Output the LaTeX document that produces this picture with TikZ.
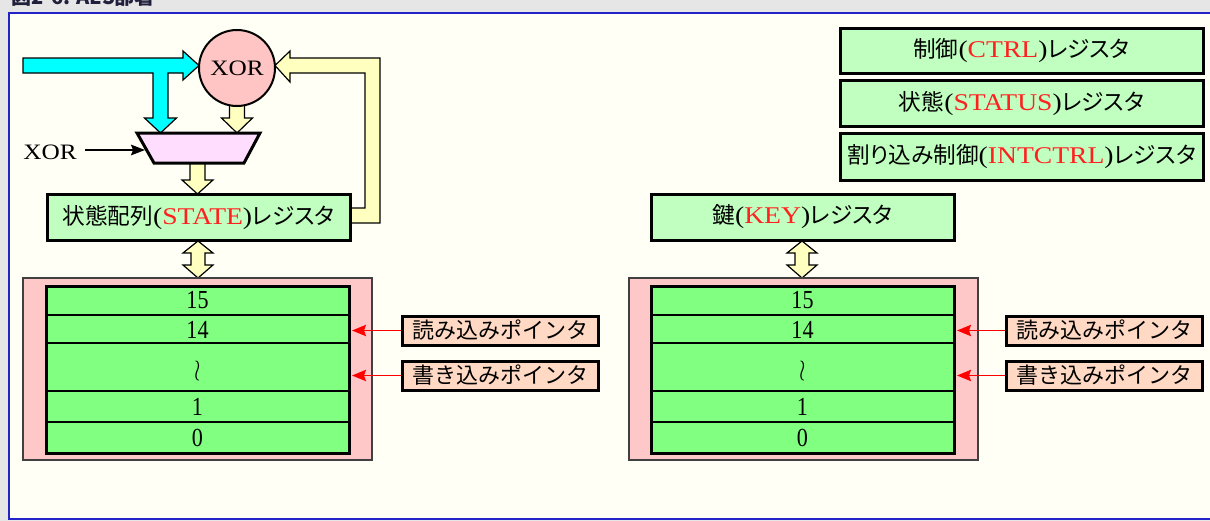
\documentclass[tikz,border=0pt]{standalone}
\usepackage{fontspec}
\setmainfont{Liberation Serif}[FakeStretch=1.15]
\newfontfamily\numfont{Liberation Serif}[FakeStretch=0.85]
\newfontfamily\jp{Noto Sans CJK JP}[RawFeature=+palt]
\newfontfamily\jpt{Noto Sans CJK JP}
\usetikzlibrary{arrows.meta}
\definecolor{bggray}{HTML}{E6E6E6}
\definecolor{panel}{HTML}{FFFFF6}
\definecolor{panelblue}{HTML}{2323C8}
\definecolor{cyanc}{HTML}{00FFFF}
\definecolor{yel}{HTML}{FFFFC0}
\definecolor{xorpink}{HTML}{FFC4C4}
\definecolor{muxpink}{HTML}{FFDDFF}
\definecolor{regfill}{HTML}{C0FFC0}
\definecolor{memgreen}{HTML}{80FF80}
\definecolor{mempink}{HTML}{FFC8C8}
\definecolor{ptrfill}{HTML}{FFD9C4}
\definecolor{ptrred}{HTML}{FF0000}
\definecolor{regred}{HTML}{FF2020}
\definecolor{titlecol}{HTML}{20203C}
\newcommand\J[1]{{\jp\fontsize{17pt}{19pt}\selectfont #1}}
\newcommand\JT[1]{{\jpt\fontsize{16.5pt}{18pt}\selectfont #1}}
\newcommand\R[1]{\textcolor{regred}{#1}}
\tikzset{
  fat/.style={draw=black, line width=0.9pt, line join=miter},
  reg/.style={draw=black, line width=2.25pt, fill=regfill, inner sep=0pt,
    font=\fontsize{18pt}{20pt}\selectfont},
  ptrbox/.style={draw=black, line width=2.25pt, fill=ptrfill, inner sep=0pt,
    minimum width=196*0.75pt, minimum height=29*0.75pt},
  meminner/.style={draw=black, line width=2.25pt, fill=memgreen, inner sep=0pt,
    minimum width=303*0.75pt, minimum height=167*0.75pt},
  memouter/.style={draw=black!75, line width=0.8pt, fill=mempink},
  rowline/.style={draw=black, line width=1.1pt},
  rowtxt/.style={inner sep=0pt, font=\numfont\fontsize{19.5pt}{21pt}\selectfont},
  ptr/.style={draw=ptrred, line width=1.3pt, -{Stealth[length=10.5pt, width=8.5pt, inset=1.5pt]}},
  blk/.style={draw=black, line width=1.2pt, -{Stealth[length=10.5pt, width=8pt, inset=1.5pt]}},
}
\begin{document}
\begin{tikzpicture}[x=0.75pt,y=-0.75pt]
\useasboundingbox (0,0) rectangle (1210,521);
\fill[bggray] (0,0) rectangle (1210,521);
\node[anchor=base west, inner sep=0pt, text=titlecol,
  font=\jpt\bfseries\fontsize{15pt}{16pt}\selectfont] (title) at (11,4) {図2-6: AES部署};
\filldraw[draw=panelblue, line width=1.5pt, fill=panel] (9,13) rectangle (1216,519);

% cyan input arrow
\filldraw[fat, fill=cyanc] (23,58) -- (183,58) -- (183,51) -- (199,65.5) -- (183,80) -- (183,73)
  -- (168,73) -- (168,118) -- (176.5,118) -- (160.5,133) -- (144.5,118) -- (153,118) -- (153,73)
  -- (23,73) -- cycle;
% yellow from XOR to mux
\filldraw[fat, fill=yel] (229.5,100) -- (244.5,100) -- (244.5,118) -- (252.5,118) -- (237,133)
  -- (221.5,118) -- (229.5,118) -- cycle;
% XOR circle
\node[circle, draw=black, line width=1.5pt, fill=xorpink, minimum size=76*0.75pt, inner sep=0pt,
  font=\fontsize{16.5pt}{18pt}\selectfont] (xor) at (237,68) {XOR};
% feedback arrow
\filldraw[fat, fill=yel] (349,208) -- (365,208) -- (365,73) -- (290,73) -- (290,82) -- (275,65.5)
  -- (290,51) -- (290,58) -- (380,58) -- (380,223) -- (349,223) -- cycle;
% yellow from mux to state
\filldraw[fat, fill=yel] (190,160) -- (205,160) -- (205,180) -- (213,180) -- (197.5,194)
  -- (182,180) -- (190,180) -- cycle;
% mux trapezoid
\filldraw[draw=black, line width=2.25pt, fill=muxpink, line join=miter]
  (137,133) -- (260,133) -- (244,163) -- (154,163) -- cycle;
\coordinate (muxin) at (145,150);
\node[inner sep=0pt, font=\fontsize{16.5pt}{18pt}\selectfont] (xorlbl) at (50,152) {XOR};
\draw[blk] (85,150) -- (muxin);

% registers
\node[reg, minimum width=303*0.75pt, minimum height=46*0.75pt] (state) at (198.5,217)
  {\J{状態配列}(\R{STATE})\J{レジスタ}};
\node[reg, minimum width=303*0.75pt, minimum height=46*0.75pt] (key) at (802.5,217)
  {\J{鍵}(\R{KEY})\J{レジスタ}};
\node[reg, minimum width=363*0.75pt, minimum height=45*0.75pt] (ctrl) at (1021.5,50.5)
  {\J{制御}(\R{CTRL})\J{レジスタ}};
\node[reg, minimum width=363*0.75pt, minimum height=46*0.75pt] (status) at (1021.5,103.5)
  {\J{状態}(\R{STATUS})\J{レジスタ}};
\node[reg, minimum width=363*0.75pt, minimum height=47*0.75pt] (intctrl) at (1021.5,156.5)
  {\J{割り込み制御}(\R{INTCTRL})\J{レジスタ}};

% double arrows
\filldraw[fat, fill=yel] (198,241) -- (213,253) -- (205,253) -- (205,265) -- (213,265) -- (198,278)
  -- (183,265) -- (191,265) -- (191,253) -- (183,253) -- cycle;
\filldraw[fat, fill=yel] (802,241) -- (817,253) -- (809,253) -- (809,265) -- (817,265) -- (802,278)
  -- (787,265) -- (795,265) -- (795,253) -- (787,253) -- cycle;

% memories
\foreach \ox/\ix/\nm in {23/46/memL, 629/651/memR}{
  \filldraw[memouter] (\ox,278) rectangle ({\ox+349},460);
  \node[meminner] (\nm) at ({\ix+151.5},369.5) {};
  \foreach \yy in {315,343,391,422}
    \draw[rowline] (\ix,\yy) -- ({\ix+303},\yy);
  \draw[draw=black, line width=2.25pt] (\ix,286) rectangle ({\ix+303},453);
  \node[rowtxt] (\nm15) at ({\ix+151.5},300.5) {15};
  \node[rowtxt] (\nm14) at ({\ix+151.5},329.5) {14};
  \node[inner sep=0pt, font=\fontsize{16pt}{18pt}\selectfont] (\nm wr) at ({\ix+151.5},371.5) {\scalebox{1}[1.3]{$\wr$}};
  \node[rowtxt] (\nm1) at ({\ix+151.5},406.5) {1};
  \node[rowtxt] (\nm0) at ({\ix+151.5},437.5) {0};
}

% pointers
\node[ptrbox] (rL) at (500,330.5) {\JT{読み込みポインタ}};
\node[ptrbox] (wL) at (500,375.5) {\JT{書き込みポインタ}};
\node[ptrbox] (rR) at (1104,330.5) {\JT{読み込みポインタ}};
\node[ptrbox] (wR) at (1104,375.5) {\JT{書き込みポインタ}};
\coordinate (tRL) at (352,330.5);
\coordinate (tWL) at (352,375.5);
\coordinate (tRR) at (957,330.5);
\coordinate (tWR) at (957,375.5);
\draw[ptr] (rL.west) -- (tRL);
\draw[ptr] (wL.west) -- (tWL);
\draw[ptr] (rR.west) -- (tRR);
\draw[ptr] (wR.west) -- (tWR);
\end{tikzpicture}
\end{document}
